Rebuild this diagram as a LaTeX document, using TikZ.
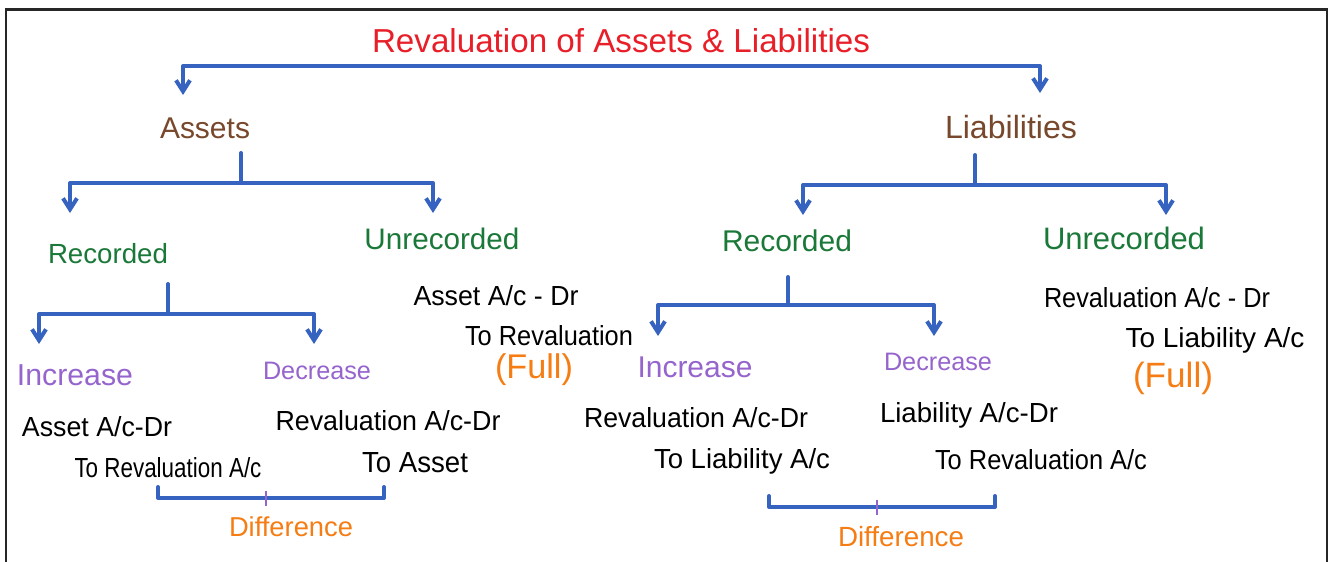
\documentclass[tikz,border=0pt]{standalone}
\usepackage{fontspec}
\setmainfont{Liberation Sans}
\usetikzlibrary{arrows.meta}
\definecolor{lnblue}{RGB}{54,98,192}
\definecolor{ttred}{RGB}{232,30,40}
\definecolor{brn}{RGB}{120,72,44}
\definecolor{grn}{RGB}{26,120,56}
\definecolor{prp}{RGB}{150,100,205}
\definecolor{org}{RGB}{245,125,20}
\newcommand\fw[2]{\resizebox{#1pt}{!}{#2}}
\newcommand\fwh[2]{\resizebox{#1pt}{20pt}{#2}}
\tikzset{
  bar/.style={draw=lnblue,line width=4pt,line cap=round,line join=round},
  arr/.style={bar,{Straight Barb[length=11pt,width=14pt,line width=4pt]}-{Straight Barb[length=11pt,width=14pt,line width=4pt]}},
  txt/.style={inner sep=0pt,anchor=center,font=\fontsize{24}{28}\selectfont},
  ttl/.style={txt,text=ttred},
  lvl1/.style={txt,text=brn},
  lvl2/.style={txt,text=grn},
  lvl3/.style={txt,text=prp},
  entry/.style={txt,text=black},
  note/.style={txt,text=org},
  tick/.style={draw=prp,line width=2.5pt}
}
\begin{document}
\begin{tikzpicture}[x=1pt,y=-1pt]
\useasboundingbox (0,0) rectangle (1331,562);
\fill[white] (0,0) rectangle (1331,562);
% frame
\draw[black!85,line width=2.5pt] (6,562) -- (6,9.5) -- (1327,9.5) -- (1327,562);

% texts
\node[ttl] (title) at (621,41) {\fw{498}{Revaluation of Assets \& Liabilities}};
\node[lvl1] (assets) at (205,128) {\fw{90}{Assets}};
\node[lvl1] (liab) at (1011,127) {\fw{132}{Liabilities}};
\node[lvl2] (recL) at (108,254) {\fw{120}{Recorded}};
\node[lvl2] (unrL) at (442,239) {\fw{155}{Unrecorded}};
\node[lvl2] (recR) at (787,241) {\fw{130}{Recorded}};
\node[lvl2] (unrR) at (1124,238) {\fw{162}{Unrecorded}};
\node[lvl3] (incL) at (75,375) {\fw{116}{Increase}};
\node[lvl3] (decL) at (317,371) {\fw{108}{Decrease}};
\node[lvl3] (incR) at (695,367) {\fw{115}{Increase}};
\node[lvl3] (decR) at (938,362) {\fw{108}{Decrease}};

\node[entry] (aL1) at (97,427) {\fwh{150}{Asset A/c-Dr}};
\node[entry] (aL2) at (168,468) {\fwh{187}{To Revaluation A/c}};
\node[entry] (dL1) at (388,421) {\fwh{225}{Revaluation A/c-Dr}};
\node[entry] (dL2) at (415,463) {\fwh{106}{To Asset}};
\node[entry] (uL1) at (496,296) {\fwh{165}{Asset A/c - Dr}};
\node[entry] (uL2) at (549,336) {\fwh{168}{To Revaluation}};
\node[note] (uL3) at (534,370) {\fw{78}{(Full)}};
\node[entry] (iR1) at (696,418) {\fwh{224}{Revaluation A/c-Dr}};
\node[entry] (iR2) at (742,461) {\fwh{176}{To Liability A/c}};
\node[entry] (dR1) at (969,415) {\fwh{178}{Liability A/c-Dr}};
\node[entry] (dR2) at (1041,460) {\fwh{212}{To Revaluation A/c}};
\node[entry] (uR1) at (1157,298) {\fwh{226}{Revaluation A/c - Dr}};
\node[entry] (uR2) at (1215,340) {\fwh{179}{To Liability A/c}};
\node[note] (uR3) at (1173,378) {\fw{80}{(Full)}};
\node[note] (difL) at (291,527) {\fw{124}{Difference}};
\node[note] (difR) at (901,537) {\fw{126}{Difference}};

% coordinates
\coordinate (t1) at (183,66);   \coordinate (t2) at (1040,66);
\coordinate (ta) at (183,95);   \coordinate (tb) at (1040,93);
\coordinate (as0) at (241,153); \coordinate (as1) at (241,183);
\coordinate (a1) at (70,183);   \coordinate (a2) at (433,183);
\coordinate (a1t) at (70,213);  \coordinate (a2t) at (433,213);
\coordinate (ls0) at (975,155); \coordinate (ls1) at (975,185);
\coordinate (l1) at (803,185);  \coordinate (l2) at (1166,185);
\coordinate (l1t) at (803,215); \coordinate (l2t) at (1166,215);
\coordinate (rs0) at (168,284); \coordinate (rs1) at (168,314);
\coordinate (r1) at (39,314);   \coordinate (r2) at (314,314);
\coordinate (r1t) at (39,344);  \coordinate (r2t) at (314,344);
\coordinate (qs0) at (788,277); \coordinate (qs1) at (788,305);
\coordinate (q1) at (658,305);  \coordinate (q2) at (934,305);
\coordinate (q1t) at (658,336); \coordinate (q2t) at (934,336);
\coordinate (bl1) at (158,487); \coordinate (bl2) at (384,487);
\coordinate (bl1b) at (158,498);\coordinate (bl2b) at (384,498);
\coordinate (bm1) at (266,491); \coordinate (bm2) at (266,506);
\coordinate (br1) at (769,496); \coordinate (br2) at (995,496);
\coordinate (br1b) at (769,507);\coordinate (br2b) at (995,507);
\coordinate (bn1) at (877,500); \coordinate (bn2) at (877,515);

% connectors
\draw[arr] (ta) -- (t1) -- (t2) -- (tb);
\draw[bar] (as0) -- (as1);
\draw[arr] (a1t) -- (a1) -- (a2) -- (a2t);
\draw[bar] (ls0) -- (ls1);
\draw[arr] (l1t) -- (l1) -- (l2) -- (l2t);
\draw[bar] (rs0) -- (rs1);
\draw[arr] (r1t) -- (r1) -- (r2) -- (r2t);
\draw[bar] (qs0) -- (qs1);
\draw[arr] (q1t) -- (q1) -- (q2) -- (q2t);
% difference brackets
\draw[bar] (bl1) -- (bl1b) -- (bl2b) -- (bl2);
\draw[tick] (bm1) -- (bm2);
\draw[bar] (br1) -- (br1b) -- (br2b) -- (br2);
\draw[tick] (bn1) -- (bn2);
\end{tikzpicture}
\end{document}
